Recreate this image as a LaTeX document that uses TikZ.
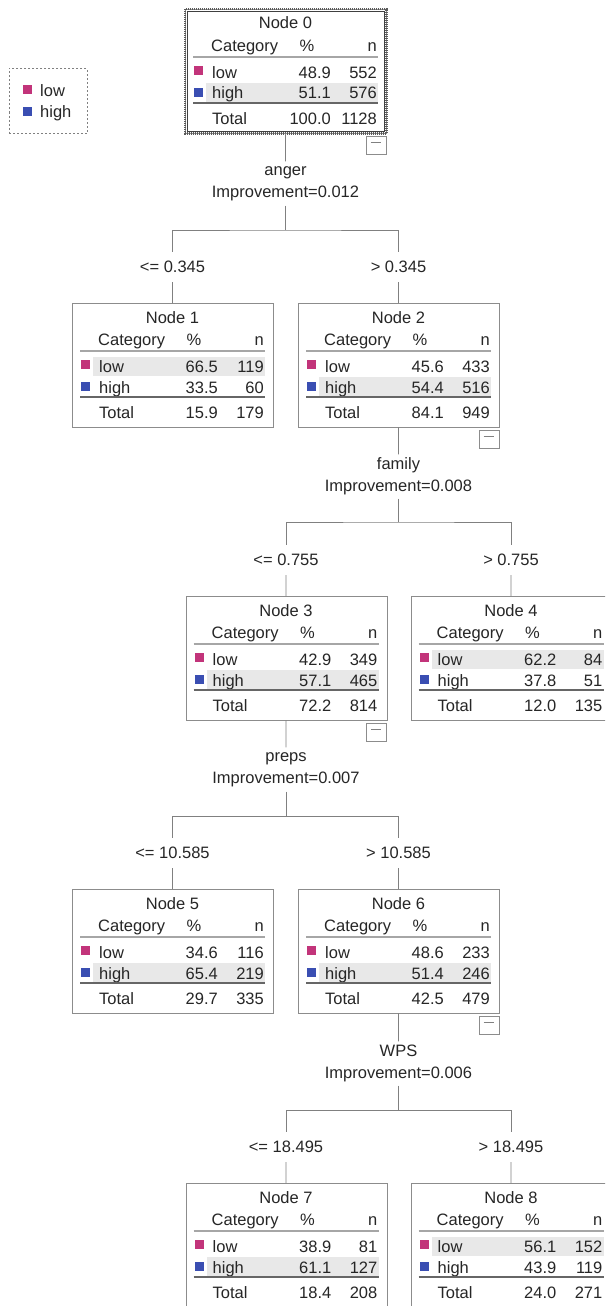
\documentclass[tikz,border=0pt]{standalone}
\usepackage{fontspec}
\setmainfont{Liberation Sans}
\usetikzlibrary{positioning}

\definecolor{lowcol}{RGB}{194,52,122}
\definecolor{highcol}{RGB}{58,78,178}
\definecolor{shade}{RGB}{232,232,232}

% #1 node number, #2/#3 top left, #4/#5 low, #6/#7 high, #8 total %
\newcommand{\treebox}[8]{%
  \begin{scope}[shift={(#2,#3)}]
    \node[tbox, anchor=north west] (n#1) at (0,0) {};
    \ifnum#5>#7\relax
      \fill[rowshade] (21,54) rectangle (193,72.5);
    \else
      \fill[rowshade] (21,74) rectangle (193,93);
    \fi
    \node[cell, anchor=base] (n#1-title) at (100.5,20) {Node #1};
    \node[cell, anchor=base west] (n#1-cat) at (26,42.5) {Category};
    \node[cell, anchor=base] (n#1-pct) at (122,42.5) {\%};
    \node[cell, anchor=base east] (n#1-n) at (192,42.5) {n};
    \draw[headrule] (8,48) -- (193,48);
    \fill[lowcol] (9,57) rectangle (18,66);
    \node[cell, anchor=base west] (n#1-lo) at (27,69) {low};
    \node[cell, anchor=base east] (n#1-lop) at (146,69) {#4};
    \node[cell, anchor=base east] (n#1-lon) at (192,69) {#5};
    \fill[highcol] (9,79) rectangle (18,88);
    \node[cell, anchor=base west] (n#1-hi) at (27,90) {high};
    \node[cell, anchor=base east] (n#1-hip) at (146,90) {#6};
    \node[cell, anchor=base east] (n#1-hin) at (192,90) {#7};
    \draw[totrule] (8,94) -- (193,94);
    \node[cell, anchor=base west] (n#1-tot) at (27,115) {Total};
    \node[cell, anchor=base east] (n#1-totp) at (146,115) {#8};
    \node[cell, anchor=base east] (n#1-totn) at (192,115) {\the\numexpr#5+#7\relax};
  \end{scope}}

\begin{document}
\begin{tikzpicture}[
      x=1pt, y=-1pt,
      cell/.style={inner sep=0pt, font=\fontsize{16.5}{22}\selectfont, text=black!85},
      tbox/.style={draw=black!45, fill=white, minimum width=201pt, minimum height=124pt, inner sep=0pt},
      rowshade/.style={fill=shade},
      headrule/.style={draw=black!35, line width=1.6pt},
      totrule/.style={draw=black!60, line width=1.6pt},
      splitlabel/.style={cell, align=center, minimum height=44pt},
      cutlabel/.style={cell, minimum height=30pt},
      link/.style={draw=black!50, line width=0.8pt},
      togglebox/.style={draw=black!45, minimum width=20pt, minimum height=18pt, inner sep=0pt,
        path picture={\draw[black!50] ([shift={(-5pt,3pt)}]path picture bounding box.center) -- ++(10pt,0pt);}},
      legbox/.style={draw=black!50, dash pattern=on 2pt off 2pt, minimum width=78pt, minimum height=65pt},
      selframe/.style={draw=black!65, line width=2.5pt, dash pattern=on 1pt off 1pt}
    ]
    \useasboundingbox (0,0) rectangle (605,1306);
    \clip (0,0) rectangle (605,1306);

    % legend
    \node[legbox] (legend) at (48,101) {};
    \fill[lowcol] (23,85) rectangle (32,94);
    \node[cell, anchor=base west] (leg-lo) at (40,96.5) {low};
    \fill[highcol] (23,107) rectangle (32,116);
    \node[cell, anchor=base west] (leg-hi) at (40,117) {high};

    \treebox{0}{185}{9}{48.9}{552}{51.1}{576}{100.0}
    \treebox{1}{72}{303}{66.5}{119}{33.5}{60}{15.9}
    \treebox{2}{298}{303}{45.6}{433}{54.4}{516}{84.1}
    \treebox{3}{185.5}{596}{42.9}{349}{57.1}{465}{72.2}
    \treebox{4}{410.5}{596}{62.2}{84}{37.8}{51}{12.0}
    \treebox{5}{72}{889}{34.6}{116}{65.4}{219}{29.7}
    \treebox{6}{298}{889}{48.6}{233}{51.4}{246}{42.5}
    \treebox{7}{185.5}{1183}{38.9}{81}{61.1}{127}{18.4}
    \treebox{8}{410.5}{1183}{56.1}{152}{43.9}{119}{24.0}

    \draw[selframe] (n0.north west) rectangle (n0.south east);
    \draw[black!75] ([shift={(1.8pt,-1.8pt)}]n0.north west) rectangle ([shift={(-1.8pt,1.8pt)}]n0.south east);

    \foreach \k in {0,2,3,6}
      \node[togglebox, below left=2.5pt and 0.5pt of n\k.south east] (t\k) {};

    \node[splitlabel] (s0) at (285.5,183.5) {anger\\Improvement=0.012};
    \node[splitlabel] (s2) at (398.5,476.5) {family\\Improvement=0.008};
    \node[splitlabel] (s3) at (286,769.5) {preps\\Improvement=0.007};
    \node[splitlabel] (s6) at (398.5,1063.5) {WPS\\Improvement=0.006};

    \coordinate (j0) at (285.5,230);
    \coordinate (j2) at (398.5,522);
    \coordinate (j3) at (286,816);
    \coordinate (j6) at (398.5,1110);

    \node[cutlabel] (b1) at (172.5,267) {<= 0.345};
    \node[cutlabel] (b2) at (398.5,267) {> 0.345};
    \node[cutlabel] (b3) at (286,560) {<= 0.755};
    \node[cutlabel] (b4) at (511,560) {> 0.755};
    \node[cutlabel] (b5) at (172.5,853) {<= 10.585};
    \node[cutlabel] (b6) at (398.5,853) {> 10.585};
    \node[cutlabel] (b7) at (286,1147) {<= 18.495};
    \node[cutlabel] (b8) at (511,1147) {> 18.495};

    \foreach \p/\a/\b in {0/1/2, 2/3/4, 3/5/6, 6/7/8} {
      \draw[link] (n\p) -- (s\p);
      \draw[link] (s\p) -- (j\p);
      \draw[link] (b\a) |- (j\p) -| (b\b);
      \draw[link] (b\a) -- (n\a);
      \draw[link] (b\b) -- (n\b);
    }
  \end{tikzpicture}
\end{document}
